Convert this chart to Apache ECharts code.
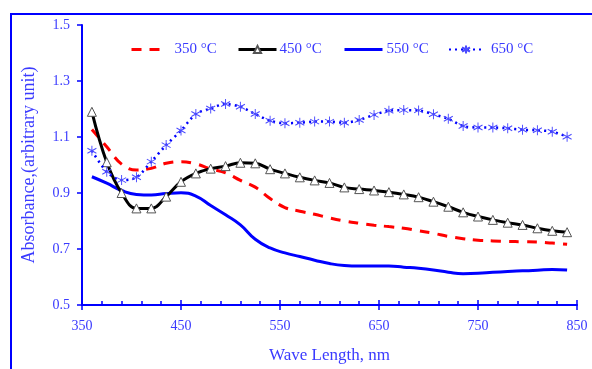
<!DOCTYPE html>
<html>
<head>
<meta charset="utf-8">
<script src="https://cdn.jsdelivr.net/npm/echarts@6/dist/echarts.min.js"></script>
<style>
  html, body { margin: 0; padding: 0; background: #fff; }
  #chart { width: 592px; height: 369px; }
</style>
</head>
<body>
<div id="chart"></div>
<script>
const wavelengths = [360, 375, 390, 405, 420, 435, 450, 465, 480, 495, 510, 525, 540, 555, 570, 585, 600,
  615, 630, 645, 660, 675, 690, 705, 720, 735, 750, 765, 780, 795, 810, 825, 840];

const abs350 = [1.127, 1.065, 1.003, 0.982, 0.988, 1.006, 1.012, 1.004, 0.986, 0.972, 0.945, 0.921, 0.880,
  0.848, 0.835, 0.824, 0.811, 0.800, 0.792, 0.785, 0.780, 0.774, 0.765, 0.756, 0.745, 0.737, 0.731, 0.729,
  0.727, 0.726, 0.725, 0.721, 0.717];

const abs450 = [1.19, 1.01, 0.90, 0.845, 0.845, 0.887, 0.94, 0.97, 0.987, 0.996, 1.008, 1.006, 0.985, 0.97,
  0.956, 0.945, 0.936, 0.92, 0.914, 0.909, 0.903, 0.895, 0.885, 0.869, 0.851, 0.831, 0.816, 0.804, 0.794,
  0.786, 0.774, 0.765, 0.76];

const abs550 = [0.958, 0.935, 0.909, 0.895, 0.893, 0.898, 0.901, 0.889, 0.855, 0.822, 0.786, 0.735, 0.704,
  0.686, 0.673, 0.660, 0.648, 0.641, 0.639, 0.639, 0.639, 0.635, 0.631, 0.625, 0.617, 0.612, 0.613, 0.617,
  0.620, 0.622, 0.624, 0.627, 0.625];

const abs650 = [1.051, 0.976, 0.946, 0.956, 1.012, 1.071, 1.123, 1.182, 1.202, 1.218, 1.208, 1.182, 1.158,
  1.149, 1.151, 1.155, 1.155, 1.151, 1.161, 1.179, 1.194, 1.196, 1.195, 1.181, 1.165, 1.139, 1.134, 1.134,
  1.131, 1.126, 1.124, 1.119, 1.101];

const seriesNames = ["350 °C", "450 °C", "550 °C", "650 °C"];

const serif = '"Liberation Serif", "Times New Roman", serif';
const textBlue = "#3a3aff";
const axisBlue = "#0000ff";

const pairs = (ys) => wavelengths.map((w, i) => [w, ys[i]]);

const chart = echarts.init(document.getElementById("chart"), null, { renderer: "canvas" });

// one legend per series so each entry can sit where the original has it
const legendAt = (left, width, name, textPad, extra) => Object.assign({
  top: 42,
  left: left,
  padding: 0,
  itemWidth: width,
  itemHeight: 10,
  data: [name],
  textStyle: { fontFamily: serif, fontSize: 15, color: textBlue, padding: [0, 0, 0, textPad] },
}, extra || {});

const option = {
  animation: false,
  backgroundColor: "#fff",
  graphic: [
    {
      type: "rect",
      shape: { x: 11, y: 14, width: 620, height: 400 },
      style: { fill: "none", stroke: axisBlue, lineWidth: 2 },
      silent: true,
    },
  ],
  legend: [
    legendAt(130, 30, seriesNames[0], 8, {
      itemStyle: { opacity: 0 },
      lineStyle: { width: 3 },
    }),
    legendAt(237, 38, seriesNames[1], -2, {
      itemHeight: 9,
      lineStyle: { width: 3 },
    }),
    legendAt(343, 38, seriesNames[2], -1, {
      itemStyle: { opacity: 0 },
      lineStyle: { width: 3 },
    }),
    legendAt(448, 34, seriesNames[3], 3),
  ],
  grid: { left: 82, right: 15, top: 25, bottom: 64 },
  xAxis: [
    {
      type: "value",
      min: 350,
      max: 850,
      interval: 100,
      name: "Wave Length, nm",
      nameLocation: "middle",
      nameGap: 42,
      nameTextStyle: { fontFamily: serif, fontSize: 17, color: textBlue },
      axisLine: { lineStyle: { color: axisBlue, width: 2 } },
      axisTick: { inside: true, length: 5, lineStyle: { color: axisBlue, width: 1.5 } },
      minorTick: { show: true, splitNumber: 5, length: 4, lineStyle: { color: axisBlue, width: 1.5 } },
      axisLabel: { fontFamily: serif, fontSize: 14, color: textBlue, margin: 14 },
      splitLine: { show: false },
    },
    {
      type: "value",
      position: "bottom",
      min: 350,
      max: 850,
      interval: 100,
      axisLine: { show: false },
      axisTick: { inside: false, length: 5, lineStyle: { color: axisBlue, width: 1.5 } },
      axisLabel: { show: false },
      splitLine: { show: false },
    },
  ],
  yAxis: {
    type: "value",
    min: 0.5,
    max: 1.5,
    interval: 0.2,
    name: "Absorbance,(arbitrary unit)",
    nameLocation: "middle",
    nameGap: 44,
    nameTextStyle: { fontFamily: serif, fontSize: 18, color: textBlue },
    axisLine: { show: true, lineStyle: { color: axisBlue, width: 2 } },
    axisTick: { show: true, length: 5, lineStyle: { color: axisBlue, width: 1.5 } },
    axisLabel: { fontFamily: serif, fontSize: 14, color: textBlue, margin: 12,
      formatter: (v) => v.toFixed(1) },
    splitLine: { show: false },
  },
  series: [
    {
      name: seriesNames[0],
      type: "line",
      data: pairs(abs350),
      smooth: 0.4,
      symbol: "none",
      z: 2,
      itemStyle: { color: "#ff0000" },
      lineStyle: { color: "#ff0000", width: 3, type: [10, 8] },
    },
    {
      name: seriesNames[1],
      type: "line",
      data: pairs(abs450),
      smooth: 0.4,
      symbol: "triangle",
      symbolSize: 9,
      z: 4,
      itemStyle: { color: "#ffffff", borderColor: "#555555", borderWidth: 1 },
      lineStyle: { color: "#000000", width: 3 },
    },
    {
      name: seriesNames[2],
      type: "line",
      data: pairs(abs550),
      smooth: 0.5,
      symbol: "none",
      z: 3,
      itemStyle: { color: "#0000ff" },
      lineStyle: { color: "#0000ff", width: 3 },
    },
    {
      name: seriesNames[3],
      type: "line",
      data: pairs(abs650),
      smooth: 0.3,
      symbol: "path://M5,0L5,10M0.6,2.5L9.4,7.5M0.6,7.5L9.4,2.5",
      symbolSize: [9, 10],
      z: 5,
      itemStyle: { color: "rgba(0,0,0,0)", borderColor: "#4a4aff", borderWidth: 1 },
      lineStyle: { color: "#0000ff", width: 2.5, type: [2, 4] },
    },
  ],
};

chart.setOption(option);
</script>
</body>
</html>
